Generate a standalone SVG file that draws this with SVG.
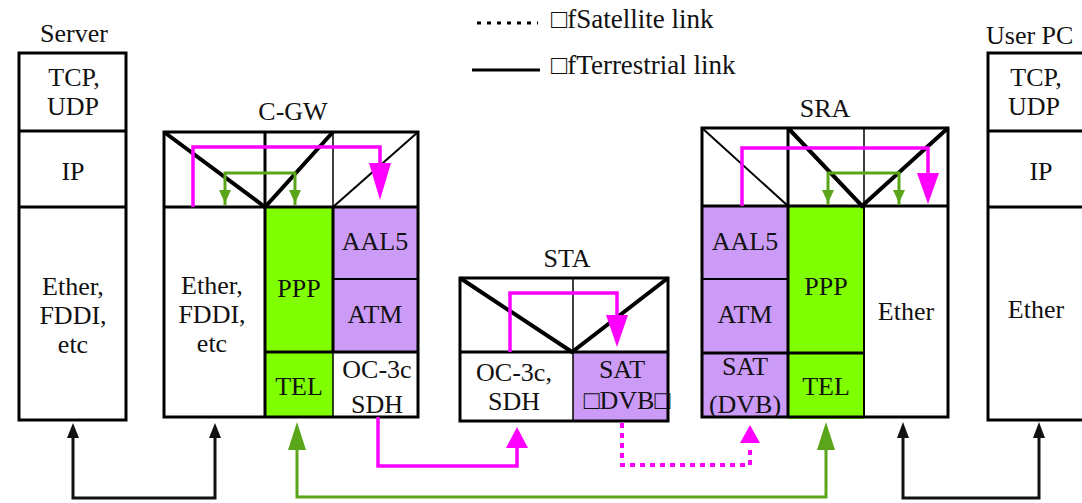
<svg xmlns="http://www.w3.org/2000/svg" width="1082" height="503" viewBox="0 0 1082 503" font-family="'Liberation Serif', 'Times New Roman', serif">
<defs>
<style>
text{font-family:'Liberation Serif','Times New Roman',serif;font-size:26px;fill:#111;text-anchor:middle}
.lg{text-anchor:start;font-size:27px}
.box{fill:none;stroke:#000;stroke-width:3}
.thk{stroke:#000;stroke-width:3;fill:none}
.thn{stroke:#000;stroke-width:1.5;fill:none}
.dg{stroke:#000;stroke-width:4;fill:none}
.dgt{stroke:#000;stroke-width:2;fill:none}
.grn{fill:#80ff00}
.pur{fill:#cc9af7}
.mg{stroke:#ff00ff;stroke-width:3.5;fill:none}
.mgf{fill:#ff00ff}
.gl{stroke:#5aa51a;stroke-width:3;fill:none}
.glf{fill:#5aa51a}
.bk{stroke:#111;stroke-width:3;fill:none}
.bkf{fill:#111}
</style>
</defs>
<rect width="1082" height="503" fill="#fff"/>

<g id="legend">
<path d="M477,23 H538" stroke="#000" stroke-width="3" stroke-dasharray="4,6"/>
<path d="M472,70 H540" stroke="#000" stroke-width="3"/>
<text class="lg" x="551" y="28">□fSatellite link</text>
<text class="lg" x="551" y="74">□fTerrestrial link</text>
</g>

<g id="server">
<text x="74" y="42">Server</text>
<rect class="box" x="19" y="53" width="107" height="367"/>
<path class="thk" d="M19,131 H126 M19,207 H126"/>
<text x="74" y="86">TCP,<tspan x="73" dy="29">UDP</tspan></text>
<text x="73" y="180">IP</text>
<text x="73" y="295">Ether,<tspan x="73" dy="29">FDDI,</tspan><tspan x="73" dy="29">etc</tspan></text>
</g>

<g id="cgw">
<text x="293" y="120">C-GW</text>
<rect class="grn" x="265" y="207" width="68" height="210"/>
<rect class="pur" x="333" y="207" width="85" height="145"/>
<rect class="box" x="164" y="132" width="254" height="285"/>
<path class="thk" d="M164,207 H418 M265,132 V417 M333,207 V352 M265,352 H418"/>
<path class="thn" d="M333,132 V207 M333,352 V417"/>
<path d="M333,279 H418" stroke="#000" stroke-width="2"/>
<path class="dg" d="M164,132 L265,207 L333,132"/>
<path class="dgt" d="M333,207 L418,132"/>
<path class="mg" d="M193,207 V147 H380 V165"/>
<polygon class="mgf" points="369,163 391,163 380,200"/>
<path class="gl" d="M225,205 V173 H295 V205"/>
<polygon class="glf" points="219,190 231,190 225,203"/>
<polygon class="glf" points="289,190 301,190 295,203"/>
<text x="212" y="294">Ether,<tspan x="212" dy="29">FDDI,</tspan><tspan x="212" dy="29">etc</tspan></text>
<text x="299" y="297">PPP</text>
<text x="299" y="395">TEL</text>
<text x="375" y="250">AAL5</text>
<text x="375" y="323">ATM</text>
<text x="377" y="378">OC-3c<tspan x="377" dy="35">SDH</tspan></text>
</g>

<g id="sta">
<text x="567" y="267">STA</text>
<rect class="pur" x="573" y="352" width="95" height="69"/>
<rect class="box" x="460" y="278" width="208" height="143"/>
<path class="thk" d="M460,352 H668"/>
<path class="thn" d="M573,278 V421"/>
<path class="dg" d="M460,278 L572,352 L668,278"/>
<path class="mg" d="M510,352 V293 H617 V317"/>
<polygon class="mgf" points="606,315 628,315 617,347"/>
<text x="514" y="381">OC-3c,<tspan x="514" dy="29">SDH</tspan></text>
<text x="622" y="378">SAT<tspan x="627" dy="31">□DVB□</tspan></text>
</g>

<g id="sra">
<text x="825" y="117">SRA</text>
<rect class="pur" x="702" y="206" width="86" height="211"/>
<rect class="grn" x="788" y="206" width="76" height="213"/>
<rect class="box" x="702" y="128" width="246" height="289"/>
<path class="thk" d="M702,206 H948 M788,128 V417 M702,353 H864"/>
<path class="thn" d="M864,128 V206"/>
<path d="M864,206 V417 M702,279 H788" stroke="#000" stroke-width="2"/>
<path class="dgt" d="M702,128 L788,206"/>
<path class="dg" d="M788,128 L862,206 L948,128"/>
<path class="mg" d="M742,206 V148 H928 V175"/>
<polygon class="mgf" points="917,173 939,173 928,204"/>
<path class="gl" d="M828,205 V173 H899 V205"/>
<polygon class="glf" points="822,190 834,190 828,203"/>
<polygon class="glf" points="893,190 905,190 899,203"/>
<text x="745" y="250">AAL5</text>
<text x="745" y="323">ATM</text>
<text x="745" y="375">SAT<tspan x="745" dy="38">(DVB)</tspan></text>
<text x="826" y="295">PPP</text>
<text x="826" y="395">TEL</text>
<text x="906" y="320">Ether</text>
</g>

<g id="userpc">
<text class="lg" x="986" y="44" style="font-size:26px">User PC</text>
<rect class="box" x="988" y="53" width="110" height="367"/>
<path class="thk" d="M988,131 H1082 M988,207 H1082"/>
<text x="1036" y="86">TCP,<tspan x="1034" dy="29">UDP</tspan></text>
<text x="1041" y="180">IP</text>
<text x="1036" y="318">Ether</text>
</g>

<g id="connectors">
<path class="bk" d="M73,436 V498 H215 V436"/>
<polygon class="bkf" points="67,438 79,438 73,423"/>
<polygon class="bkf" points="209,438 221,438 215,423"/>
<path class="gl" d="M297,445 V497 H826 V445"/>
<polygon class="glf" points="288,450 306,450 297,422"/>
<polygon class="glf" points="817,450 835,450 826,422"/>
<path class="mg" d="M378,417 V466 H517 V445"/>
<polygon class="mgf" points="506,448 528,448 517,427"/>
<path d="M622,423 V465 H750 V445" stroke="#ff00ff" stroke-width="4" fill="none" stroke-dasharray="5,5"/>
<polygon class="mgf" points="740,443 760,443 750,425"/>
<path class="bk" d="M903,436 V498 H1039 V436"/>
<polygon class="bkf" points="897,438 909,438 903,422"/>
<polygon class="bkf" points="1033,438 1045,438 1039,422"/>
</g>
</svg>
